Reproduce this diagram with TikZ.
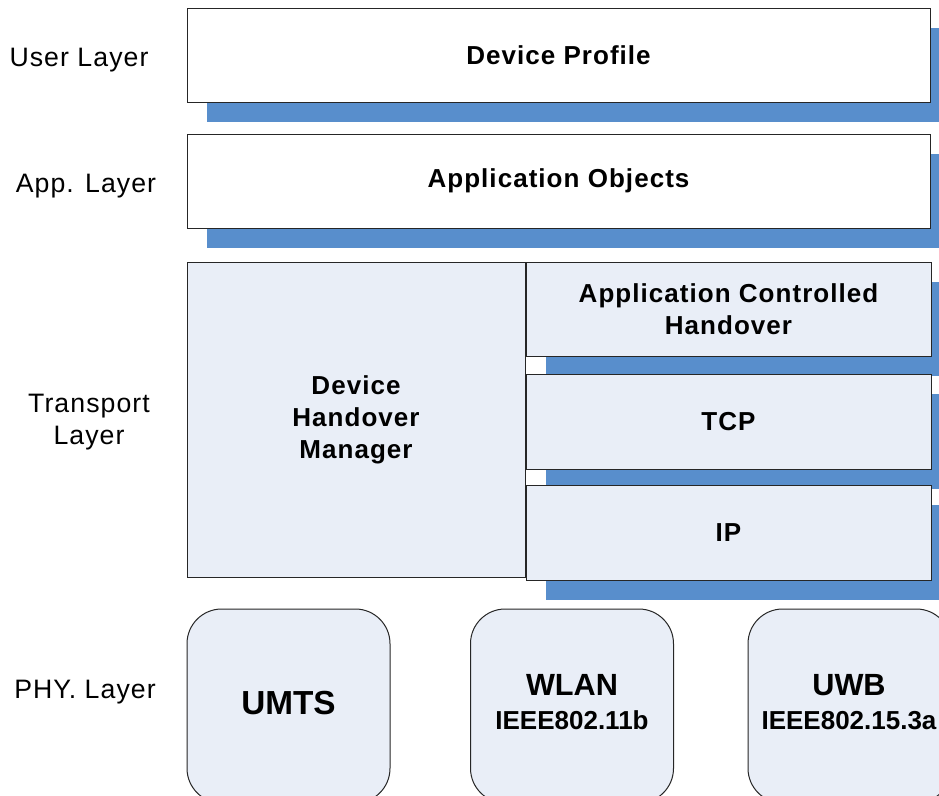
\documentclass[tikz,border=0pt]{standalone}
\usepackage{fontspec}
\setmainfont{Liberation Sans}[LetterSpace=4]
\newfontfamily\tightfont{Liberation Sans}[LetterSpace=0]
\usetikzlibrary{positioning,shadows}
\definecolor{shadeblue}{RGB}{88,142,204}
\definecolor{stackfill}{RGB}{233,238,247}

\tikzset{
  layername/.style={font=\fontsize{20}{24}\selectfont, align=center, inner sep=0pt},
  block/.style={rectangle, draw=black!85, line width=0.75pt, inner sep=0pt,
    align=center, font=\bfseries\fontsize{19.5}{24}\selectfont},
  shadowed/.style={drop shadow={shadow xshift=15pt, shadow yshift=-15pt,
    fill=shadeblue, opacity=1}},
  wideblock/.style={block, shadowed, fill=white, minimum width=557.25pt, minimum height=70.5pt},
  stackblock/.style={block, shadowed, fill=stackfill, minimum width=303.75pt, minimum height=70.5pt},
  phybox/.style={rectangle, rounded corners=26pt, draw=black!85, line width=0.75pt,
    fill=stackfill, minimum width=152.25pt, minimum height=145.5pt},
  phyname/.style={font=\tightfont\bfseries\fontsize{23}{23}\selectfont, align=center, inner sep=0pt}
}

\begin{document}
\begin{tikzpicture}[x=0.75pt,y=-0.75pt]
\clip (0,0) rectangle (939,796);

% layer names on the left
\node[layername] (usr) at (79,60) {User Layer};
\node[layername] (app) at (86,186) {App. Layer};
\node[layername] (trn) at (89,422) {Transport\\Layer};
\node[layername] (phy) at (85,692) {PHY. Layer};

% upper layers
\node[wideblock] (prof) at (558.5,55) {Device Profile};
\node[wideblock] (objs) at (558.5,181) {Application Objects};

% transport layer
\node[block, fill=stackfill, minimum width=253.5pt, minimum height=236.25pt] (dhm) at (356,419.5) {Device\\Handover\\Manager};
\node[stackblock, below right=0pt of dhm.north east] (ach) {Application Controlled\\Handover};
\node[stackblock, below=12.75pt of ach, minimum height=71.25pt] (tcp) {TCP};
\node[stackblock, below=11.25pt of tcp, minimum height=71.25pt] (ip) {IP};

% physical layer
\node[phybox] (umts) at (288.5,706) {};
\node[phybox] (wlan) at (572,706) {};
\node[phybox] (uwb) at (849.5,706) {};
\node[phyname, font=\tightfont\bfseries\fontsize{25}{25}\selectfont] (umtsname) at (288.5,703) {UMTS};
\node[phyname] (wlanname) at (572,702) {WLAN\\[3pt]{\fontsize{19.5}{19.5}\selectfont IEEE802.11b}};
\node[phyname] (uwbname) at (849,702) {UWB\\[3pt]{\fontsize{19.5}{19.5}\selectfont IEEE802.15.3a}};
\end{tikzpicture}
\end{document}
